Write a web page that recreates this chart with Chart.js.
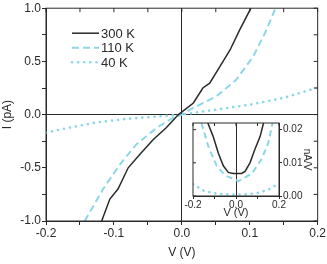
<!DOCTYPE html>
<html>
<head>
<meta charset="utf-8">
<script src="https://cdn.jsdelivr.net/npm/chart.js@4"></script>
<style>
  html, body { margin: 0; padding: 0; background: #fff; }
  #wrap { position: relative; width: 327px; height: 264px; }
  #mainChart { position: absolute; left: 0; top: 0; }
  #insetChart { position: absolute; left: 183px; top: 116px; }
</style>
</head>
<body>
<div id="wrap">
  <canvas id="mainChart" width="327" height="264"></canvas>
  <canvas id="insetChart" width="130" height="104"></canvas>
</div>
<script>
// main I-V curves
var seriesLabels = ["300 K", "110 K", "40 K"];
var v300 = [-0.118, -0.106, -0.094, -0.079, -0.062, -0.042, -0.023, -0.005, 0.017, 0.031, 0.041, 0.056, 0.071, 0.085, 0.100, 0.102];
var i300 = [-1.0, -0.794, -0.70, -0.50, -0.374, -0.234, -0.124, 0.0, 0.109, 0.25, 0.296, 0.45, 0.607, 0.794, 0.98, 1.0];
var v110 = [-0.143, -0.116, -0.091, -0.067, -0.037, -0.013, 0.0, 0.012, 0.051, 0.080, 0.105, 0.122, 0.138];
var i110 = [-1.0, -0.70, -0.467, -0.28, -0.124, -0.03, 0.0, 0.047, 0.171, 0.327, 0.545, 0.76, 1.0];
var v40 = [-0.2, -0.179, -0.13, -0.081, -0.032, 0.0, 0.051, 0.1, 0.149, 0.198, 0.2];
var i40 = [-0.17, -0.14, -0.078, -0.04, -0.016, 0.0, 0.047, 0.093, 0.156, 0.25, 0.255];

// inset dI/dV curves
var gV300 = [-0.131, -0.106, -0.082, -0.059, -0.036, -0.013, 0.026, 0.042, 0.065, 0.088, 0.112, 0.128];
var g300 = [0.022, 0.0179, 0.0129, 0.0091, 0.0071, 0.0068, 0.0068, 0.0074, 0.0100, 0.0141, 0.0179, 0.022];
var gV110 = [-0.161, -0.129, -0.090, -0.051, 0.011, 0.073, 0.119, 0.150, 0.170];
var g110 = [0.022, 0.0150, 0.0091, 0.0062, 0.0045, 0.0067, 0.0111, 0.0160, 0.022];
var gV40 = [-0.2, -0.15, -0.1, -0.05, 0.0, 0.05, 0.1, 0.15, 0.2];
var g40 = [0.0036, 0.0016, 0.0008, 0.0005, 0.0004, 0.0005, 0.0009, 0.0019, 0.0038];

var cyan = "#8cd8e6";
var ink = "#2a2a2a";
var fam = "Liberation Sans";
var dotted = [0.1, 6];

function pts(xs, ys) {
  return xs.map(function (x, i) { return { x: x, y: ys[i] }; });
}

// frame with inward ticks on the sides that carry no axis
var framePlugin = {
  id: "frame",
  afterDraw: function (chart, args, opts) {
    var a = chart.chartArea, ctx = chart.ctx;
    var xs = chart.scales.x, ys = chart.scales.y;
    ctx.save();
    ctx.strokeStyle = ink;
    ctx.lineWidth = 1;
    ctx.strokeRect(a.left, a.top, a.right - a.left, a.bottom - a.top);
    ctx.beginPath();
    xs.ticks.forEach(function (t) {
      var px = xs.getPixelForValue(t.value);
      ctx.moveTo(px, a.top);
      ctx.lineTo(px, a.top + opts.len);
    });
    var side = opts.ySide === "left" ? a.left : a.right;
    var dir = opts.ySide === "left" ? 1 : -1;
    ys.ticks.forEach(function (t) {
      var py = ys.getPixelForValue(t.value);
      ctx.moveTo(side, py);
      ctx.lineTo(side + dir * opts.len, py);
    });
    ctx.stroke();
    ctx.restore();
  }
};

// legend inside the plot, line samples keep each dataset's dash
var lineLegend = {
  id: "lineLegend",
  afterDraw: function (chart, args, opts) {
    var a = chart.chartArea, ctx = chart.ctx;
    ctx.save();
    ctx.font = opts.size + "px " + fam;
    ctx.textBaseline = "middle";
    chart.data.datasets.forEach(function (ds, i) {
      var y = a.top + opts.top + i * opts.row;
      var x0 = a.left + opts.left;
      ctx.beginPath();
      ctx.strokeStyle = ds.borderColor;
      ctx.lineWidth = ds.borderWidth;
      ctx.lineCap = ds.borderCapStyle || "butt";
      ctx.setLineDash(ds.borderDash || []);
      ctx.moveTo(x0, y);
      ctx.lineTo(x0 + opts.len, y);
      ctx.stroke();
      ctx.fillStyle = ink;
      ctx.fillText(ds.label, x0 + opts.len + 2, y + 1);
    });
    ctx.restore();
  }
};

function zeroGrid(c) {
  return c.tick && Math.abs(c.tick.value) < 1e-9 ? ink : "rgba(0,0,0,0)";
}

var mainData = {
  datasets: [
    { label: seriesLabels[0], data: pts(v300, i300), borderColor: ink, borderWidth: 1.5 },
    { label: seriesLabels[1], data: pts(v110, i110), borderColor: cyan, borderWidth: 2, borderDash: [7, 4] },
    { label: seriesLabels[2], data: pts(v40, i40), borderColor: cyan, borderWidth: 2.6, borderDash: dotted, borderCapStyle: "round" }
  ]
};

new Chart(document.getElementById("mainChart").getContext("2d"), {
  type: "line",
  data: mainData,
  plugins: [framePlugin, lineLegend],
  options: {
    responsive: false,
    animation: false,
    layout: { padding: { left: 0, top: 7, right: 9, bottom: 0 } },
    elements: { point: { radius: 0 }, line: { tension: 0 } },
    scales: {
      x: {
        type: "linear", min: -0.2, max: 0.2,
        border: { color: ink, width: 1 },
        grid: { color: zeroGrid, tickColor: ink, tickLength: 4 },
        ticks: {
          stepSize: 0.05, autoSkip: false, maxRotation: 0, padding: 1, color: ink,
          font: { family: fam, size: 12 },
          callback: function (v) { var k = Math.round(v * 100); return k % 10 === 0 ? (k / 100).toFixed(1) : ""; }
        },
        title: { display: true, text: "V (V)", color: ink, font: { family: fam, size: 12 }, padding: { top: 0, bottom: 4 } },
        afterFit: function (s) { s.height = 43; }
      },
      y: {
        type: "linear", min: -1, max: 1,
        border: { color: ink, width: 1 },
        grid: { color: zeroGrid, tickColor: ink, tickLength: 4 },
        ticks: {
          stepSize: 0.25, autoSkip: false, padding: 1, color: ink,
          font: { family: fam, size: 12 },
          callback: function (v) { var k = Math.round(v * 100); return k % 50 === 0 ? (k / 100).toFixed(1) : ""; }
        },
        title: { display: true, text: "I (pA)", color: ink, font: { family: fam, size: 12 }, padding: { top: 0, bottom: 2 } },
        afterFit: function (s) { s.width = 46; }
      }
    },
    plugins: {
      frame: { len: 4, ySide: "right" },
      lineLegend: { left: 26, top: 25, row: 14.5, len: 27, size: 13 },
      tooltip: { enabled: false },
      legend: { display: false }
    }
  }
});

new Chart(document.getElementById("insetChart").getContext("2d"), {
  type: "line",
  data: {
    datasets: [
      { label: seriesLabels[0], data: pts(gV300, g300), borderColor: ink, borderWidth: 1.5 },
      { label: seriesLabels[1], data: pts(gV110, g110), borderColor: cyan, borderWidth: 2, borderDash: [6, 4] },
      { label: seriesLabels[2], data: pts(gV40, g40), borderColor: cyan, borderWidth: 2.6, borderDash: dotted, borderCapStyle: "round" }
    ]
  },
  plugins: [framePlugin],
  options: {
    responsive: false,
    animation: false,
    layout: { padding: { left: 10, top: 6, right: 0, bottom: 0 } },
    elements: { point: { radius: 0 }, line: { tension: 0 } },
    scales: {
      x: {
        type: "linear", min: -0.2, max: 0.2,
        border: { color: ink, width: 1 },
        grid: { color: zeroGrid, tickColor: ink, tickLength: 3 },
        ticks: {
          stepSize: 0.1, autoSkip: false, maxRotation: 0, padding: 0, color: ink,
          font: { family: fam, size: 10 },
          callback: function (v) { var k = Math.round(v * 10); return k % 2 === 0 ? (k / 10).toFixed(1) : ""; }
        },
        title: { display: true, text: "V (V)", color: ink, font: { family: fam, size: 11 }, padding: { top: 0, bottom: 0 } },
        afterFit: function (s) { s.height = 24; }
      },
      y: {
        type: "linear", position: "right", min: 0, max: 0.022,
        border: { color: ink, width: 1 },
        grid: { display: true, color: "rgba(0,0,0,0)", tickColor: ink, tickLength: 3 },
        ticks: {
          stepSize: 0.01, includeBounds: false, padding: 1, color: ink,
          font: { family: fam, size: 10 },
          callback: function (v) { return v.toFixed(2); }
        },
        title: { display: true, text: "nA/V", color: ink, font: { family: fam, size: 10 }, padding: { top: 0, bottom: 0 } },
        afterFit: function (s) { s.width = 34; }
      }
    },
    plugins: {
      frame: { len: 3, ySide: "left" },
      tooltip: { enabled: false },
      legend: { display: false }
    }
  }
});
</script>
</body>
</html>
